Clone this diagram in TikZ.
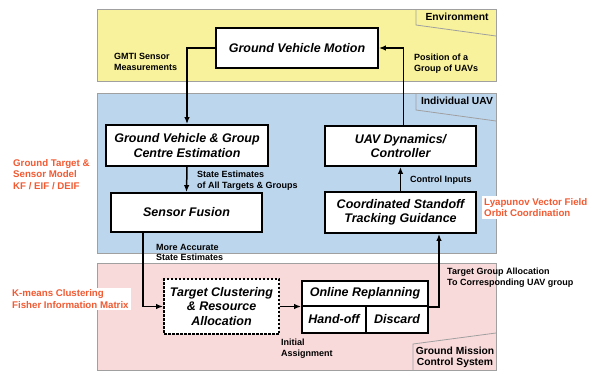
\documentclass[tikz,border=0pt]{standalone}
\usepackage{fontspec}
\setmainfont{Liberation Sans}
\usetikzlibrary{arrows.meta}

\definecolor{envyellow}{RGB}{248,242,156}
\definecolor{uavblue}{RGB}{188,214,238}
\definecolor{gcspink}{RGB}{249,218,218}
\definecolor{panelgrey}{RGB}{160,160,160}
\definecolor{methodred}{RGB}{242,90,50}

\newcommand{\blockfont}{\fontsize{12.5}{14.5}\selectfont\bfseries\itshape}
\newcommand{\notefont}{\fontsize{9}{10.8}\selectfont\bfseries}
\newcommand{\tabfont}{\fontsize{10.3}{11.2}\selectfont\bfseries}
\newcommand{\methodfont}{\fontsize{9.7}{11.5}\selectfont\bfseries}

\tikzset{
  block/.style={draw, line width=1.8pt, fill=white, align=center, inner sep=0pt, font=\blockfont},
  plan/.style={block, dash pattern=on 2.5pt off 1.5pt},
  panel/.style={draw=panelgrey, line width=0.8pt},
  note/.style={anchor=west, align=left, inner sep=0pt, font=\notefont},
  tab/.style={align=center, inner sep=0pt, font=\tabfont},
  method/.style={anchor=west, align=left, inner sep=2pt, fill=white, text=methodred, font=\methodfont},
  link/.style={line width=1.5pt, -{Latex[length=7pt,width=5.5pt]}},
}

\begin{document}
\begin{tikzpicture}[x=1pt,y=-1pt]
        \useasboundingbox (0,0) rectangle (592,373);
        % Panels
        \filldraw[panel, fill=envyellow] (97,9.3) rectangle (496,81.7);
        \filldraw[panel, fill=uavblue] (97,93.3) rectangle (496,253);
        \filldraw[panel, fill=gcspink] (97,263) rectangle (496,370);
        % Panel tabs
        \draw[panel] (416,9.3) -- (416,25) -- (496,36);
        \node[tab] (envtab) at (457,16.5) {Environment};
        \draw[panel] (416,93.3) -- (416,110) -- (496,121);
        \node[tab] (uavtab) at (457,100.5) {Individual UAV};
        \draw[panel] (413,370) -- (413,344) -- (496,333);
        \node[tab] (gcstab) at (455,357.5) {Ground Mission\\Control System};

        %% Blocks
        \node[block, minimum width=162pt, minimum height=40pt] (gvm) at (297,48) {Ground Vehicle Motion};
        \node[block, minimum width=162pt, minimum height=41pt] (gvge) at (187,145.5)
            {Ground Vehicle \& Group\\Centre Estimation};
        \node[block, minimum width=151pt, minimum height=39pt] (sf) at (186.5,212.5) {Sensor Fusion};
        \node[block, minimum width=151pt, minimum height=40pt] (uav) at (400.5,146)
            {UAV Dynamics/\\Controller};
        \node[block, minimum width=151pt, minimum height=41pt] (csg) at (400.5,212.5)
            {Coordinated Standoff\\Tracking Guidance};
        \node[plan, minimum width=115pt, minimum height=55pt] (tcr) at (221.5,306.5)
            {Target Clustering\\\& Resource\\Allocation};
        \node[block, minimum width=126pt, minimum height=25pt] (orp) at (365,293.5) {Online Replanning};
        \node[block, minimum width=64pt, minimum height=27pt] (hand) at (334,319.5) {Hand-off};
        \node[block, minimum width=62pt, minimum height=27pt] (disc) at (397,319.5) {Discard};

        %% Connect the blocks
        \draw[link] (gvm.west) -| (gvge.north);
        \draw[link] ([xshift=3pt]uav.north) |- (gvm.east);
        \draw[link] (gvge.south) -- (sf.north);
        \draw[link] ([xshift=-43.5pt]sf.south) |- (tcr.west);
        \draw[link] (tcr.east) -- (tcr.east -| orp.west);
        \draw[link] (orp.south east) -| ([xshift=38.5pt]csg.south);
        \draw[link] (csg.north) -- (uav.south);

        %% Signal labels
        \node[note] (gmti) at (114,62) {GMTI Sensor\\Measurements};
        \node[note] (posn) at (414,63.5) {Position of a\\Group of UAVs};
        \node[note] (allest) at (197,180.5) {State Estimates\\of All Targets \& Groups};
        \node[note] (ctrl) at (410,180) {Control Inputs};
        \node[note] (accest) at (156,252.5) {More Accurate\\State Estimates};
        \node[note] (alloc) at (447,277.5) {Target Group Allocation\\To Corresponding UAV group};
        \node[note] (init) at (281,349) {Initial\\Assignment};

        %% Methods
        \node[method] (kfmodel) at (11,174.5) {Ground Target \&\\Sensor Model\\KF / EIF / DEIF};
        \node[method] (lyap) at (482,207.5) {Lyapunov Vector Field\\Orbit Coordination};
        \node[method] (kmeans) at (10,299) {K-means Clustering\\Fisher Information Matrix};

    \end{tikzpicture}
\end{document}
